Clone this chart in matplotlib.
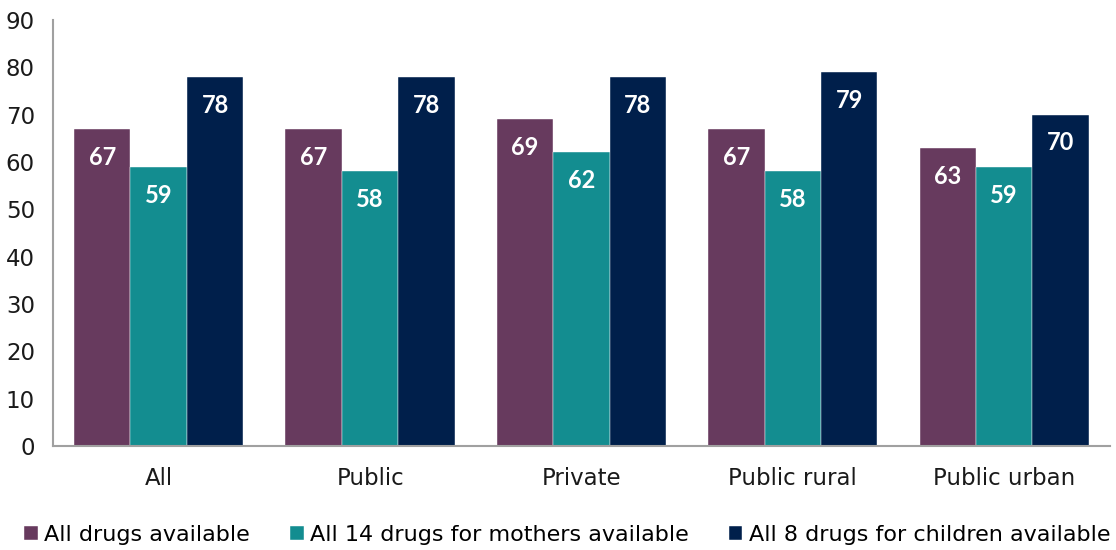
import matplotlib.pyplot as plt
import numpy as np

categories = ["All", "Public", "Private", "Public rural", "Public urban"]
all_drugs = [67, 67, 69, 67, 63]
mothers = [59, 58, 62, 58, 59]
children = [78, 78, 78, 79, 70]

series = [
    ("All drugs available", all_drugs, "#673A5E"),
    ("All 14 drugs for mothers available", mothers, "#138D90"),
    ("All 8 drugs for children available", children, "#001F4B"),
]

fig = plt.figure(figsize=(11.16, 5.5), dpi=100)
ax = fig.add_axes([0.0475, 0.189, 0.947, 0.775])

x = np.arange(len(categories))
w = 0.267
for i, (name, vals, color) in enumerate(series):
    pos = x + (i - 1) * w
    bars = ax.bar(pos, vals, width=w, color=color, label=name,
                  edgecolor="white", linewidth=0.3)
    for b, v in zip(bars, vals):
        ax.text(b.get_x() + b.get_width() / 2, v - 6, str(v),
                ha="center", va="center", color="white",
                fontsize=17, fontweight="bold", family="Lato")

ax.set_xlim(-0.5, 4.5)
ax.set_ylim(0, 90)
ax.set_yticks(range(0, 91, 10))
ax.set_xticks(x)
ax.set_xticklabels(categories)
for s in ["top", "right"]:
    ax.spines[s].set_visible(False)
for s in ["left", "bottom"]:
    ax.spines[s].set_color("#A0A0A0")
    ax.spines[s].set_linewidth(1.5)
ax.tick_params(axis="both", length=0, labelsize=16.5, colors="#1a1a1a")
ax.tick_params(axis="x", pad=15)
ax.tick_params(axis="y", pad=13)
for lbl in ax.get_xticklabels() + ax.get_yticklabels():
    lbl.set_family("DejaVu Sans")

fig.legend(loc="center", bbox_to_anchor=(0.5085, 0.028), ncol=3,
           frameon=False, handlelength=0.6, handleheight=0.6,
           handletextpad=0.3, columnspacing=1.8,
           prop={"family": "DejaVu Sans", "size": 16})

fig.savefig("out.png", dpi=100)
